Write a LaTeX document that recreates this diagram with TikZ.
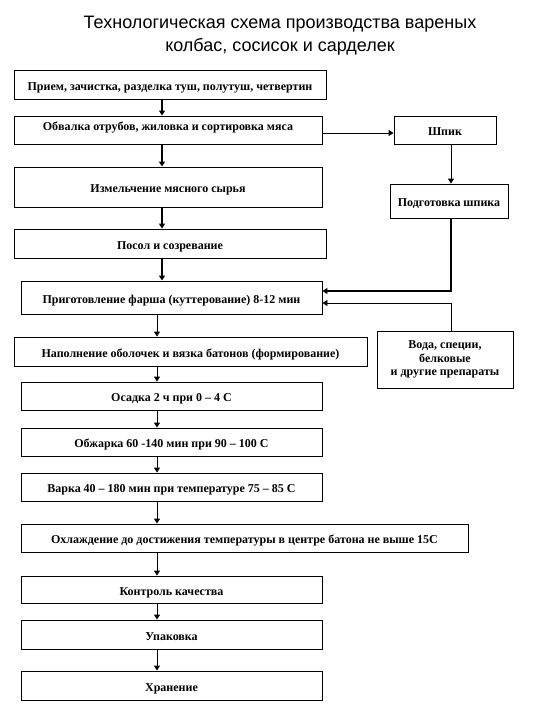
\documentclass[tikz,border=0pt]{standalone}
\usepackage{fontspec}
\setmainfont{Liberation Serif}
\newfontfamily\titlefont{Liberation Sans}
\usetikzlibrary{arrows.meta}
\begin{document}
\begin{tikzpicture}[x=1pt,y=-1pt,
  box/.style={draw,line width=0.9pt,inner sep=0pt,align=center,
    text height=11pt,text depth=0pt,
    font=\fontsize{12}{13.2}\selectfont\bfseries},
  thinarr/.style={line width=0.9pt,-{Triangle[length=5pt,width=6pt]}},
  thickarr/.style={line width=2pt,-{Triangle[length=5pt,width=6pt]}}]
\useasboundingbox (0,0) rectangle (540,720);
\fill[white] (0,0) rectangle (540,720);
\node[align=center,font=\titlefont\fontsize{18}{23}\selectfont] (title) at (280,36)
  {Технологическая схема производства вареных\\колбас, сосисок и сарделек};
\node[box,minimum width=312,minimum height=29] (b1) at (170,84.5) {Прием, зачистка, разделка туш, полутуш, четвертин};
\node[box,minimum width=308,minimum height=28,text height=10pt,text depth=9pt] (b2) at (168,130) {Обвалка отрубов, жиловка и  сортировка мяса};
\node[box,minimum width=308,minimum height=40] (b3) at (168,187) {Измельчение мясного сырья};
\node[box,minimum width=312,minimum height=29] (b4) at (170,243.5) {Посол и созревание};
\node[box,minimum width=301,minimum height=33] (b5) at (171.5,297.5) {Приготовление фарша (куттерование) 8-12 мин};
\node[box,minimum width=353,minimum height=29] (b6) at (190.5,351.5) {Наполнение оболочек и вязка батонов (формирование)};
\node[box,minimum width=301,minimum height=28] (b7) at (171.5,396) {Осадка 2 ч при 0 – 4 С};
\node[box,minimum width=301,minimum height=28] (b8) at (171.5,442) {Обжарка 60 -140 мин при 90 – 100 С};
\node[box,minimum width=301,minimum height=28] (b9) at (171.5,487) {Варка 40 – 180 мин при температуре 75 – 85 С};
\node[box,minimum width=447,minimum height=28] (b10) at (244.5,538) {Охлаждение до достижения температуры в центре батона не выше 15С};
\node[box,minimum width=301,minimum height=27] (b11) at (171.5,589.5) {Контроль качества};
\node[box,minimum width=301,minimum height=29] (b12) at (171.5,634.5) {Упаковка};
\node[box,minimum width=301,minimum height=29] (b13) at (171.5,685.5) {Хранение};
\node[box,minimum width=102,minimum height=28] (s1) at (445,130) {Шпик};
\node[box,minimum width=118,minimum height=34] (s2) at (449,201) {Подготовка шпика};
\node[box,minimum width=136,minimum height=57,text height={},text depth={}] (w) at (445,359.5) {Вода, специи,\\белковые\\ и другие препараты};
\coordinate (xa) at (162,0);
\coordinate (xb) at (157,0);
\coordinate (xc) at (451,0);
\draw[thickarr] (b1.south -| xa) -- (b2.north -| xa);
\draw[thickarr] (b2.south -| xa) -- (b3.north -| xa);
\draw[thickarr] (b3.south -| xa) -- (b4.north -| xa);
\draw[thickarr] (b4.south -| xa) -- (b5.north -| xa);
\draw[thinarr] (b5.south -| xb) -- (b6.north -| xb);
\draw[thinarr] (b6.south -| xb) -- (b7.north -| xb);
\draw[thinarr] (b7.south -| xb) -- (b8.north -| xb);
\draw[thinarr] (b8.south -| xb) -- (b9.north -| xb);
\draw[thinarr] (b9.south -| xb) -- (b10.north -| xb);
\draw[thinarr] (b10.south -| xb) -- (b11.north -| xb);
\draw[thinarr] (b11.south -| xb) -- (b12.north -| xb);
\draw[thinarr] (b12.south -| xb) -- (b13.north -| xb);
\draw[thinarr] ([yshift=-3pt]b2.east) -- ([yshift=-3pt]s1.west);
\draw[thinarr] (s1.south -| xc) -- (s2.north -| xc);
\draw[thickarr] (s2.south -| xc) |- ([yshift=6.5pt]b5.east);
\draw[thinarr] (w.north -| xc) |- ([yshift=-5.5pt]b5.east);
\end{tikzpicture}
\end{document}
